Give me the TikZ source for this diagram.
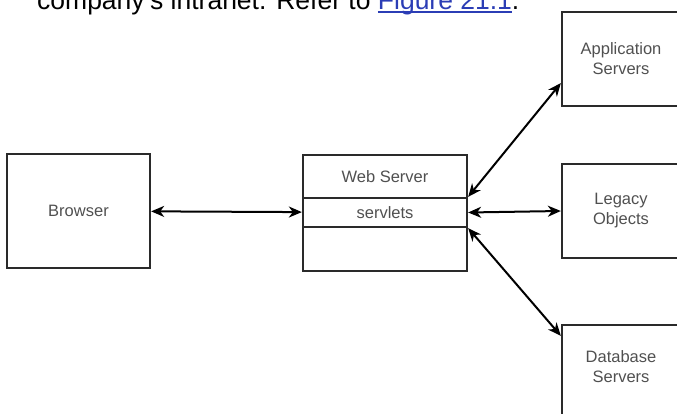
\documentclass[tikz,border=0pt]{standalone}
\usepackage{fontspec}
\setmainfont{Liberation Sans}
\usetikzlibrary{arrows.meta,calc}
\definecolor{linkblue}{HTML}{2B3DB5}
\definecolor{boxgray}{HTML}{2A2A2A}
\definecolor{labelgray}{HTML}{505050}
\newcommand\figlink[1]{\setbox0\hbox{#1}{\color{linkblue}\rlap{\rule[-2.6pt]{\wd0}{1.6pt}}#1}}

\begin{document}
\begin{tikzpicture}[x=1pt, y=-1pt, >={Stealth[length=13pt, width=11pt, inset=4pt]},
	boxtext/.style={inner sep=0pt, align=center, text=labelgray, font=\fontsize{16.5}{20}\selectfont},
	box/.style={boxtext, draw=boxgray, line width=2.3pt},
	link/.style={<->, line width=2pt}]
	\useasboundingbox (0,0) rectangle (677,414);
	\clip (0,0) rectangle (677,414);
	% running text above the figure, cut off at the top
	\node[anchor=base west, inner sep=0pt, font=\fontsize{26.5}{30}\selectfont] (intro) at (37,10) {company's intranet. Refer to \figlink{Figure 21.1}.};
	% boxes
	\node[box, minimum width=143, minimum height=114] (browser) at (78.5,211) {Browser};
	\node[box, minimum width=164, minimum height=116] (web) at (385,213) {};
	\node[boxtext] (webtitle) at (385,176.5) {Web Server};
	\node[box, minimum width=164, minimum height=29] (servlets) at (385,212.5) {servlets};
	\node[box, minimum width=118, minimum height=94] (app) at (621,59) {Application\\Servers};
	\node[box, minimum width=118, minimum height=94] (legacy) at (621,211) {Legacy\\Objects};
	\node[box, minimum width=118, minimum height=100] (db) at (621,375) {};
	\node[boxtext] (dbtitle) at ($(db.north)+(0,43)$) {Database\\Servers};
	% connectors
	\draw[link] (browser) -- (servlets);
	\draw[link] (servlets.north east) -- ($(app.south west)!0.25!(app.north west)$);
	\draw[link] (servlets.east) -- (legacy.west);
	\draw[link] (servlets.south east) -- ($(db.north west)+(0,12)$);
\end{tikzpicture}
\end{document}
